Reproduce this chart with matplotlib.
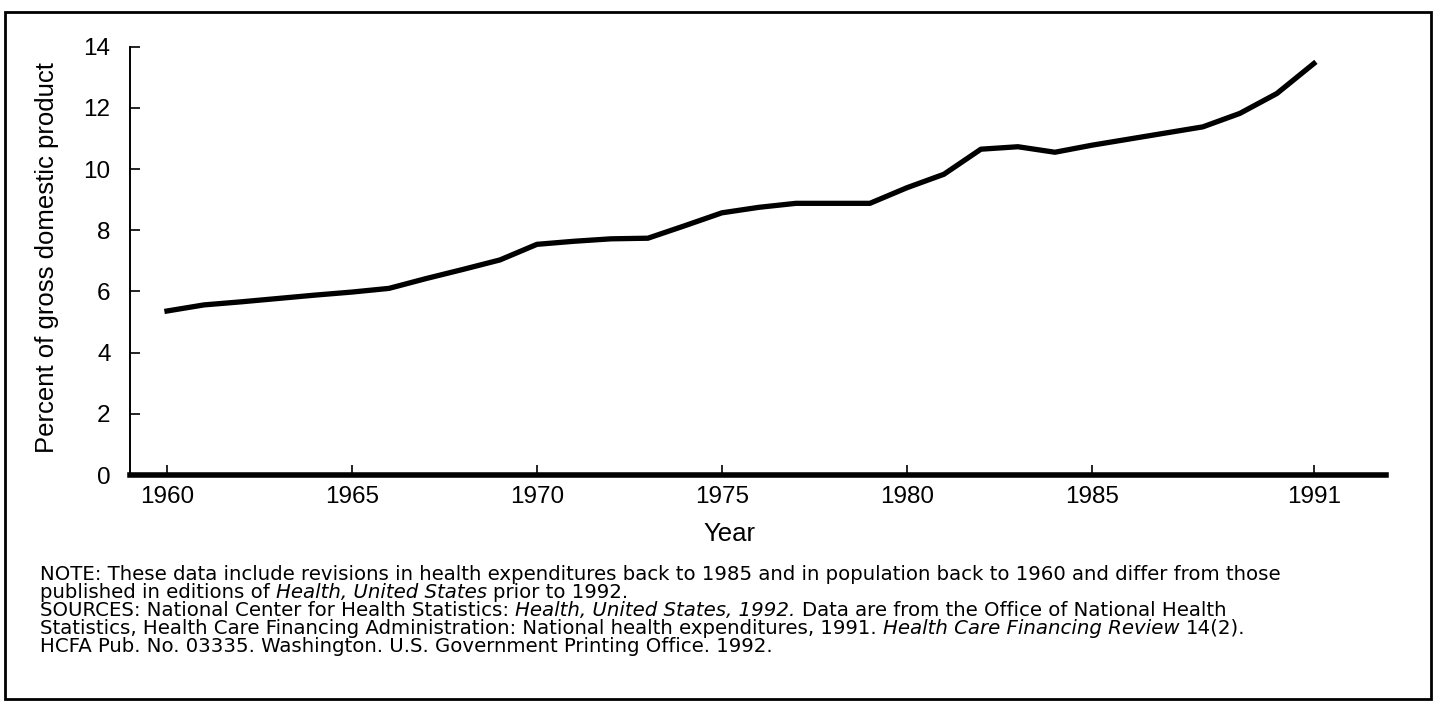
import matplotlib
matplotlib.use("Agg")
import matplotlib.pyplot as plt
from matplotlib.patches import Rectangle

# health expenditure as percent of GDP
years = [1960, 1961, 1962, 1963, 1964, 1965, 1966, 1967, 1968, 1969,
         1970, 1971, 1972, 1973, 1974, 1975, 1976, 1977, 1978, 1979,
         1980, 1981, 1982, 1983, 1984, 1985, 1986, 1987, 1988, 1989,
         1990, 1991]
pct_gdp = [5.36, 5.56, 5.66, 5.77, 5.88, 5.98, 6.10, 6.42, 6.72, 7.03,
           7.54, 7.64, 7.72, 7.74, 8.15, 8.57, 8.75, 8.88, 8.88, 8.88,
           9.39, 9.83, 10.65, 10.73, 10.55, 10.78, 10.98, 11.18, 11.38, 11.82,
           12.47, 13.45]

x_ticks = [1960, 1965, 1970, 1975, 1980, 1985, 1991]
y_ticks = [0, 2, 4, 6, 8, 10, 12, 14]

note_lines = [
    [("NOTE: These data include revisions in health expenditures back to 1985 and in population back to 1960 and differ from those", False)],
    [("published in editions of", False), ("Health, United States", True), ("prior to 1992.", False)],
    [("SOURCES: National Center for Health Statistics:", False), ("Health, United States, 1992.", True),
     ("Data are from the Office of National Health", False)],
    [("Statistics, Health Care Financing Administration: National health expenditures, 1991.", False),
     ("Health Care Financing Review", True), ("14(2).", False)],
    [("HCFA Pub. No. 03335. Washington. U.S. Government Printing Office. 1992.", False)],
]

W, H = 1436, 709
plt.rcParams['font.family'] = ['Liberation Sans', 'DejaVu Sans']

fig = plt.figure(figsize=(W / 100, H / 100), dpi=100)
ax = fig.add_axes([130 / W, 1 - 475 / H, 1256 / W, (475 - 46.7) / H])

ax.plot(years, pct_gdp, color='black', lw=3.8, solid_joinstyle='round')

ax.set_xlim(1959.0, 1992.95)
ax.set_ylim(0, 14)
ax.set_xticks(x_ticks)
ax.set_yticks(y_ticks)
ax.tick_params(axis='y', direction='in', length=7, width=1.2, labelsize=17.5, pad=14)
ax.tick_params(axis='x', direction='in', length=7, width=1.2, labelsize=17.5, pad=8)

for side in ['top', 'right']:
    ax.spines[side].set_visible(False)
ax.spines['left'].set_linewidth(1.4)
ax.spines['bottom'].set_linewidth(4)

fig.text(47 / W, 1 - 258 / H, "Percent of gross domestic product", rotation=90,
         ha='center', va='center', fontsize=18.5)
fig.text(729 / W, 1 - 541 / H, "Year", ha='center', va='baseline', fontsize=18.5)

# notes, with the italic titles drawn as separate runs on the same baseline
renderer = fig.canvas.get_renderer()
note_font = 'DejaVu Sans'
note_size = 14.2

p1 = fig.text(0, 0, "x x", fontsize=note_size, family=note_font)
p2 = fig.text(0, 0, "xx", fontsize=note_size, family=note_font)
space = p1.get_window_extent(renderer).width - p2.get_window_extent(renderer).width
p1.remove()
p2.remove()

baselines = [580, 598, 616, 634, 652]
for runs, yb in zip(note_lines, baselines):
    x = 40
    for txt, italic in runs:
        t = fig.text(x / W, 1 - yb / H, txt, fontsize=note_size, family=note_font,
                     va='baseline', ha='left', style='italic' if italic else 'normal')
        x += t.get_window_extent(renderer).width + space

fig.add_artist(Rectangle((5 / W, 1 - 699 / H), 1426 / W, 687 / H, fill=False,
                         lw=2, edgecolor='black', transform=fig.transFigure))

fig.savefig("out.png", dpi=100, facecolor='white')
